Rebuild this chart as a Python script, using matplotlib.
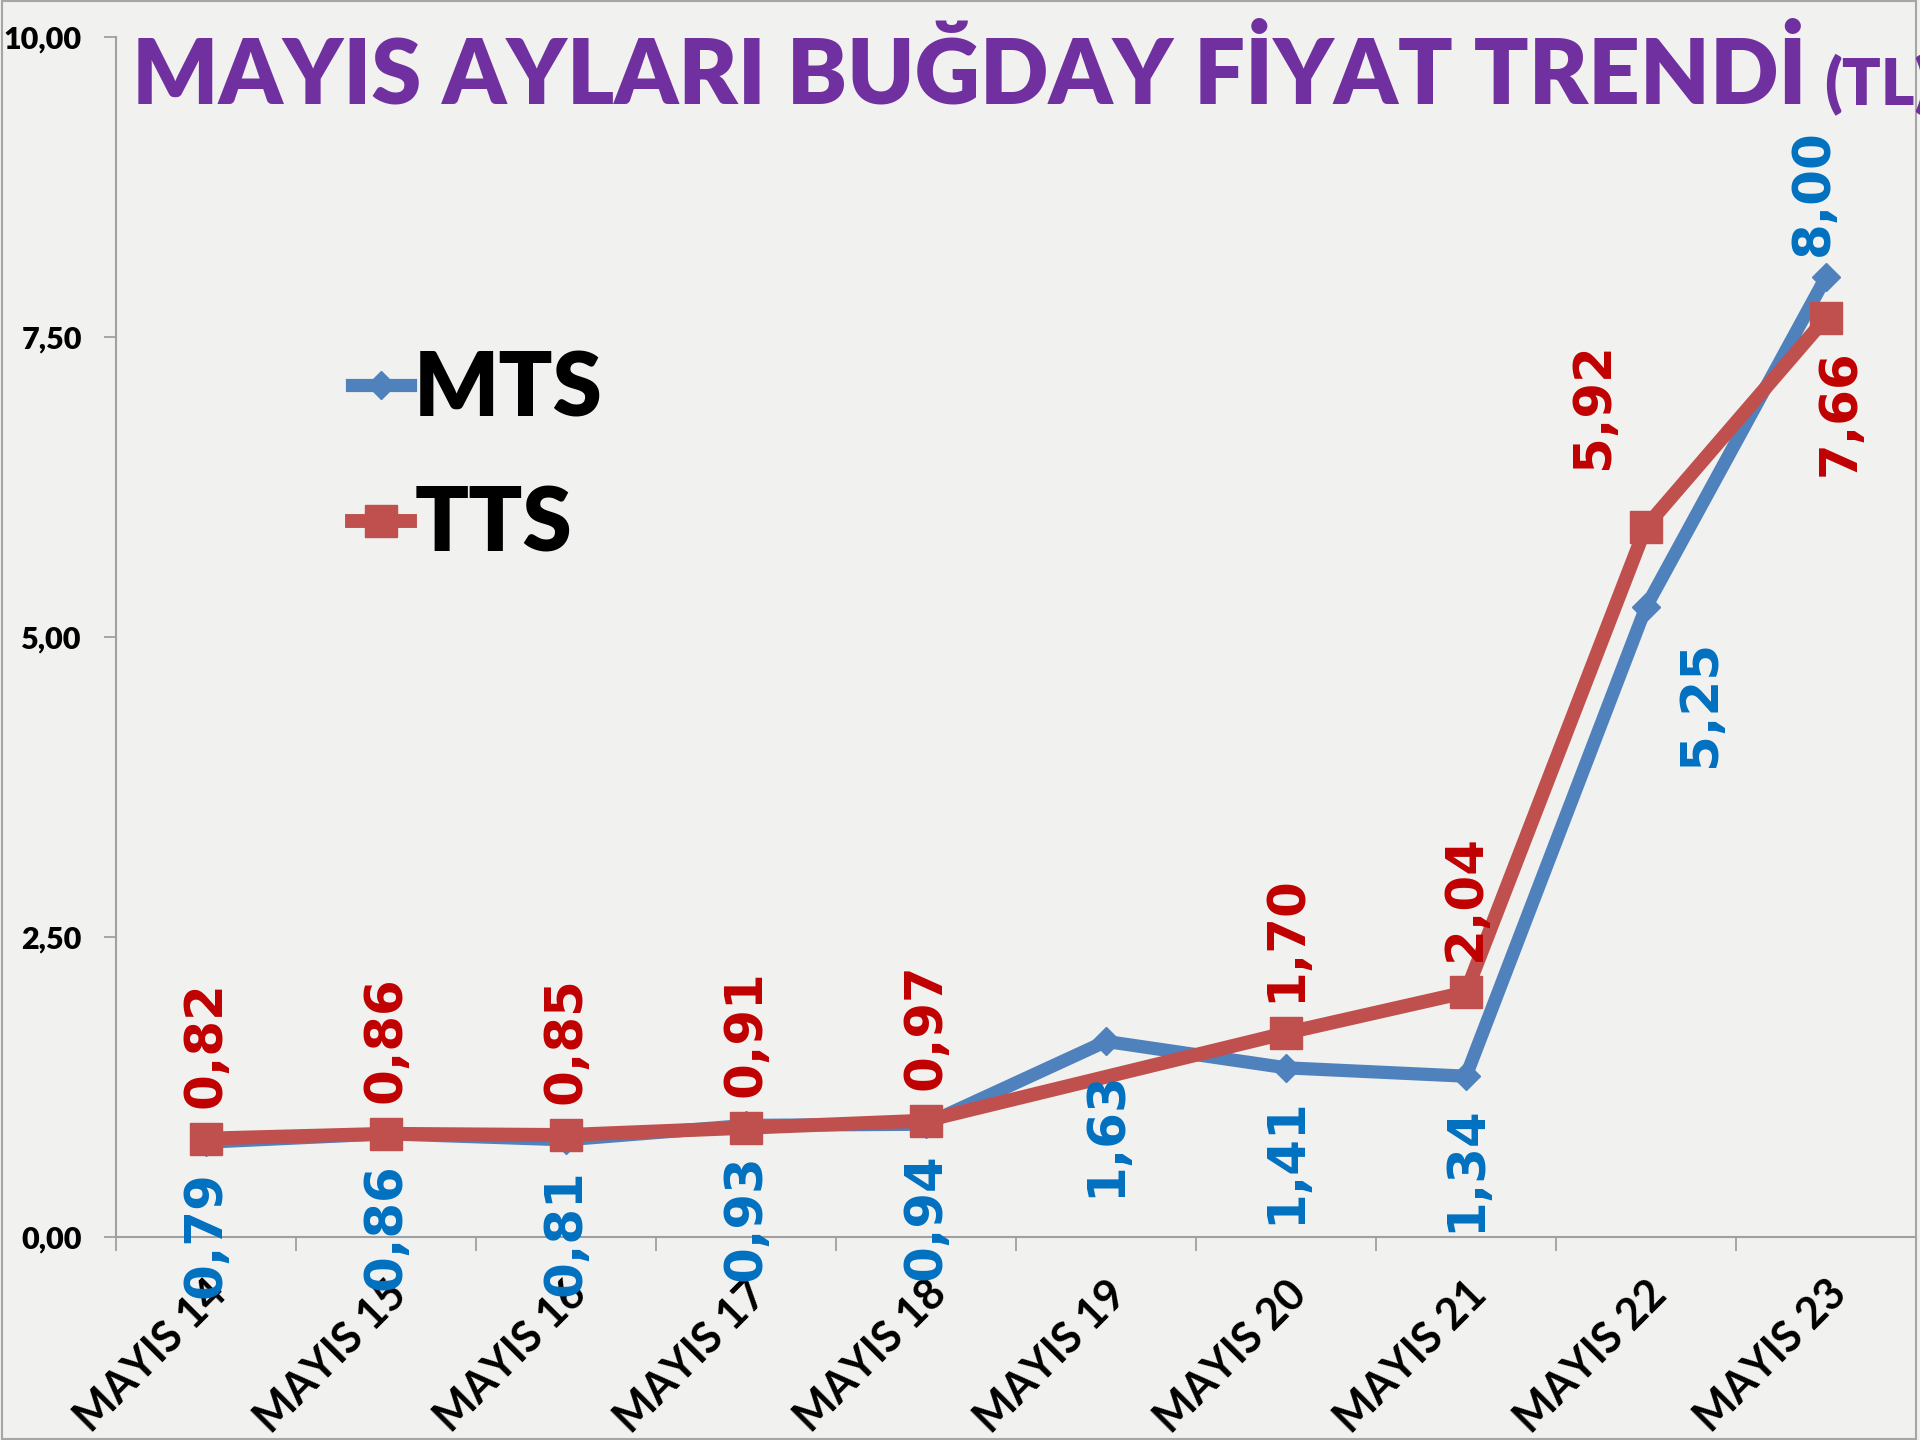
import matplotlib
matplotlib.use("Agg")
import matplotlib.pyplot as plt
import matplotlib.transforms as mtransforms
from matplotlib.patches import Rectangle

# ---------------- data ----------------
categories = ["MAYIS 14", "MAYIS 15", "MAYIS 16", "MAYIS 17", "MAYIS 18",
              "MAYIS 19", "MAYIS 20", "MAYIS 21", "MAYIS 22", "MAYIS 23"]
mts = [0.79, 0.86, 0.81, 0.93, 0.94, 1.63, 1.41, 1.34, 5.25, 8.00]
tts = [0.82, 0.86, 0.85, 0.91, 0.97, None, 1.70, 2.04, 5.92, 7.66]
series_names = ["MTS", "TTS"]
y_ticks = [0.0, 2.5, 5.0, 7.5, 10.0]
title_main = "MAYIS AYLARI BUĞDAY FİYAT TRENDİ"
title_tail = "(TL)"

# label placement tweaks (pixels): (dx, dy, va)
mts_label_pos = {8: (55, -33, "top"), 9: (-12, 21, "bottom")}
tts_label_pos = {8: (-52, 58, "bottom"), 9: (15, -31, "top")}

def fmt(v):
    return f"{v:.2f}".replace(".", ",")

# ---------------- style ----------------
BG = "#F1F1EF"
BLUE_LINE = "#4F81BD"
BLUE_TXT = "#0070C0"
RED_LINE = "#C0504D"
RED_TXT = "#C00000"
PURPLE = "#7030A0"
UI_FONT = ["Lato", "DejaVu Sans"]

fig = plt.figure(figsize=(19.2, 14.4), dpi=100, facecolor=BG)
ax = fig.add_axes([116 / 1920, 1 - 1237 / 1440, 1800 / 1920, 1200 / 1440])
ax.set_facecolor("none")

x_m = list(range(len(categories)))
l1, = ax.plot(x_m, mts, color=BLUE_LINE, lw=9.5, marker="D", ms=14,
              solid_joinstyle="round", zorder=3, label=series_names[0])
x_t = [i for i, v in enumerate(tts) if v is not None]
y_t = [v for v in tts if v is not None]
l2, = ax.plot(x_t, y_t, color=RED_LINE, lw=10, marker="s", ms=23,
              solid_joinstyle="round", zorder=4, label=series_names[1])

# data labels
for i, v in enumerate(mts):
    dx, dy, va = mts_label_pos.get(i, (0, -29, "top"))
    ax.annotate(fmt(v), (i, v), xytext=(dx, dy), textcoords="offset pixels",
                rotation=90, ha="center", va=va, color=BLUE_TXT,
                fontsize=37, fontweight="bold", family="DejaVu Sans", zorder=6)
for i, v in enumerate(tts):
    if v is None:
        continue
    dx, dy, va = tts_label_pos.get(i, (0, 31, "bottom"))
    ax.annotate(fmt(v), (i, v), xytext=(dx, dy), textcoords="offset pixels",
                rotation=90, ha="center", va=va, color=RED_TXT,
                fontsize=37, fontweight="bold", family="DejaVu Sans", zorder=6)

# axes
ax.set_xlim(-0.5, len(categories) - 0.5)
ax.set_ylim(0, 10)
ax.set_yticks(y_ticks)
ax.set_yticklabels([fmt(t) for t in y_ticks], fontsize=22, fontweight="heavy",
                   family=UI_FONT)
ax.set_xticks([i - 0.5 for i in range(len(categories) + 1)])
ax.set_xticklabels([])
ax.set_xticks(range(len(categories)), minor=True)
ax.set_xticklabels(categories, minor=True, rotation=45, ha="right",
                   va="top", rotation_mode="anchor", fontsize=31,
                   fontweight="bold", family=UI_FONT)
shift = mtransforms.ScaledTranslation(12 / 100, 0, fig.dpi_scale_trans)
for lab in ax.get_xticklabels(minor=True):
    lab.set_transform(lab.get_transform() + shift)
ax.tick_params(axis="x", which="major", length=10, width=1.3, color="#A0A0A0",
               direction="out")
ax.tick_params(axis="x", which="minor", length=0, pad=26)
ax.tick_params(axis="y", length=8.5, width=1.3, color="#A0A0A0", pad=16)
for s in ["top", "right"]:
    ax.spines[s].set_visible(False)
for s in ["left", "bottom"]:
    ax.spines[s].set_color("#A0A0A0")
    ax.spines[s].set_linewidth(1.5)

# legend
leg = ax.legend(handles=[l1, l2], loc="center left",
                bbox_to_anchor=(352 / 1920, 1 - 458 / 1440),
                bbox_transform=fig.transFigure, frameon=False,
                prop={"family": UI_FONT, "weight": "heavy", "size": 64},
                handlelength=0.65, handletextpad=0.05, labelspacing=0.6,
                borderpad=0, borderaxespad=0)

# title
t1 = fig.text(132 / 1920, 1 - 104 / 1440, title_main, color=PURPLE,
              fontsize=65, fontweight="heavy", family=UI_FONT, va="baseline")
fig.canvas.draw()
bb = t1.get_window_extent()
fig.text(bb.x1 / 1920 + 0.009, 1 - 104 / 1440, title_tail, color=PURPLE,
         fontsize=46, fontweight="heavy", family=UI_FONT, va="baseline")

# outer border
fig.patches.append(Rectangle((0.001, 0.001), 0.997, 0.998, transform=fig.transFigure,
                             fill=False, edgecolor="#A6A6A6", lw=1.5))

fig.savefig("out.png", dpi=100, facecolor=BG)
